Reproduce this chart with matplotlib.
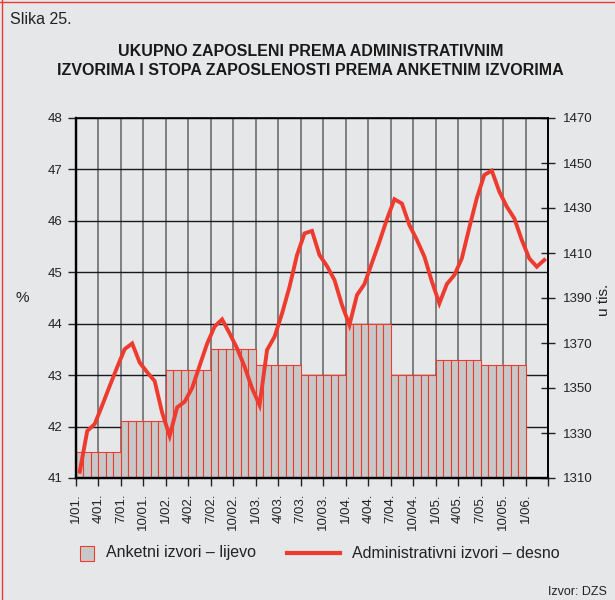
import matplotlib
matplotlib.use('Agg')
import matplotlib.pyplot as plt
import numpy as np
from matplotlib.patches import Rectangle
from matplotlib.lines import Line2D

plt.rcParams['font.family'] = ['Liberation Sans', 'DejaVu Sans']

# stopa zaposlenosti prema anketi, po polugodistima (%)
survey_halfyear = [41.5, 42.1, 43.1, 43.5, 43.2, 43.0, 44.0, 43.0, 43.3, 43.2]

# zaposleni prema administrativnim izvorima, mjesecno od 1/01 do 3/06 (u tis.)
admin = [1312.8, 1330.9, 1334.0, 1342.3, 1350.9, 1359.3, 1367.3, 1369.8, 1361.3, 1357.0, 1353.1, 1339.0,
         1328.7, 1341.4, 1343.9, 1350.0, 1359.9, 1369.7, 1377.3, 1380.5, 1374.3, 1367.6, 1359.5, 1349.9,
         1342.4, 1366.9, 1372.8, 1383.1, 1395.0, 1409.1, 1418.7, 1419.8, 1409.1, 1404.2, 1398.0, 1386.9,
         1378.0, 1391.3, 1396.2, 1405.6, 1415.0, 1425.0, 1433.9, 1432.0, 1422.4, 1415.8, 1408.4, 1397.3,
         1387.6, 1396.2, 1400.2, 1407.6, 1421.3, 1434.4, 1444.7, 1446.6, 1437.3, 1430.6, 1425.4, 1415.8,
         1407.6, 1403.9, 1406.9]

tick_labels = ['1/01.', '4/01.', '7/01.', '10/01.', '1/02.', '4/02.', '7/02.', '10/02.',
               '1/03.', '4/03.', '7/03.', '10/03.', '1/04.', '4/04.', '7/04.', '10/04.',
               '1/05.', '4/05.', '7/05.', '10/05.', '1/06.']

survey = np.repeat(survey_halfyear, 6)   # jedan stupac po mjesecu
bar_x = np.arange(len(survey)) + 0.5
line_x = np.arange(len(admin)) + 0.5

bg = '#e6e7e9'
red = '#ee3b2f'

fig = plt.figure(figsize=(6.15, 6.0), dpi=100, facecolor=bg)
ax = fig.add_axes([76/615, 1-478/600, (548-76)/615, 360/600])
ax.set_facecolor(bg)
ax.set_axisbelow(True)
ax.bar(bar_x, survey, width=1, color='#c8c8c8', edgecolor=red, linewidth=0.8, zorder=2)
ax.set_xlim(0, 63)
ax.set_ylim(41, 48)
ax.set_yticks(range(41, 49))
ax.set_xticks(np.arange(0, 64, 3))
ax.set_xticklabels(tick_labels + [''], rotation=90)
ax.yaxis.grid(True, color='#1a1a1a', linewidth=1.0)
ax.xaxis.grid(True, color='#777777', linewidth=1.3)
ax.tick_params(axis='y', direction='out', length=6, width=1, labelsize=9.5, colors='#222222', pad=4)
ax.tick_params(axis='x', direction='out', length=6, width=1, labelsize=9.5, colors='#222222', pad=5)
for s in ['left', 'bottom']:
    ax.spines[s].set_linewidth(1.7)
for s in ['top', 'right']:
    ax.spines[s].set_linewidth(1.2)

ax2 = ax.twinx()
ax2.plot(line_x, admin, color=red, linewidth=2.8, solid_joinstyle='miter', zorder=3)
ax2.set_ylim(1310, 1470)
ax2.set_yticks(range(1310, 1471, 20))
ax2.tick_params(axis='y', direction='inout', length=10, width=1, labelsize=9.5, colors='#222222', pad=6)
ax2.spines['right'].set_linewidth(1.2)

# naslovi i oznake
fig.text(10/615, 1-20/600, 'Slika 25.', fontsize=11.5, va='center', color='#222222')
fig.text(0.505, 1-61/600, 'UKUPNO ZAPOSLENI PREMA ADMINISTRATIVNIM\nIZVORIMA I STOPA ZAPOSLENOSTI PREMA ANKETNIM IZVORIMA',
         ha='center', va='center', fontsize=11.5, fontweight='bold', linespacing=1.3, color='#1a1a1a')
fig.text(22/615, 1-298/600, '%', ha='center', va='center', fontsize=11, color='#222222')
fig.text(604/615, 1-300/600, 'u tis.', ha='center', va='center', rotation=90, fontsize=11, color='#222222')

# legenda
fig.add_artist(Rectangle((80/615, 1-561/600), 14/615, 15/600, transform=fig.transFigure,
                         facecolor='#c8c8c8', edgecolor=red, linewidth=0.8))
fig.text(106/615, 1-553/600, 'Anketni izvori – lijevo', va='center', fontsize=11.5, color='#222222')
fig.add_artist(Line2D([287/615, 340/615], [1-553/600, 1-553/600], transform=fig.transFigure,
                      color=red, linewidth=3))
fig.text(352/615, 1-553/600, 'Administrativni izvori – desno', va='center', fontsize=11.5, color='#222222')
fig.text(607/615, 1-592/600, 'Izvor: DZS', ha='right', va='center', fontsize=9, color='#222222')

# okvir
fig.add_artist(Line2D([0.003, 0.003], [0, 1], transform=fig.transFigure, color=red, linewidth=1))
fig.add_artist(Line2D([0, 1], [0.997, 0.997], transform=fig.transFigure, color=red, linewidth=1))

fig.savefig('out.png', dpi=100, facecolor=bg)
